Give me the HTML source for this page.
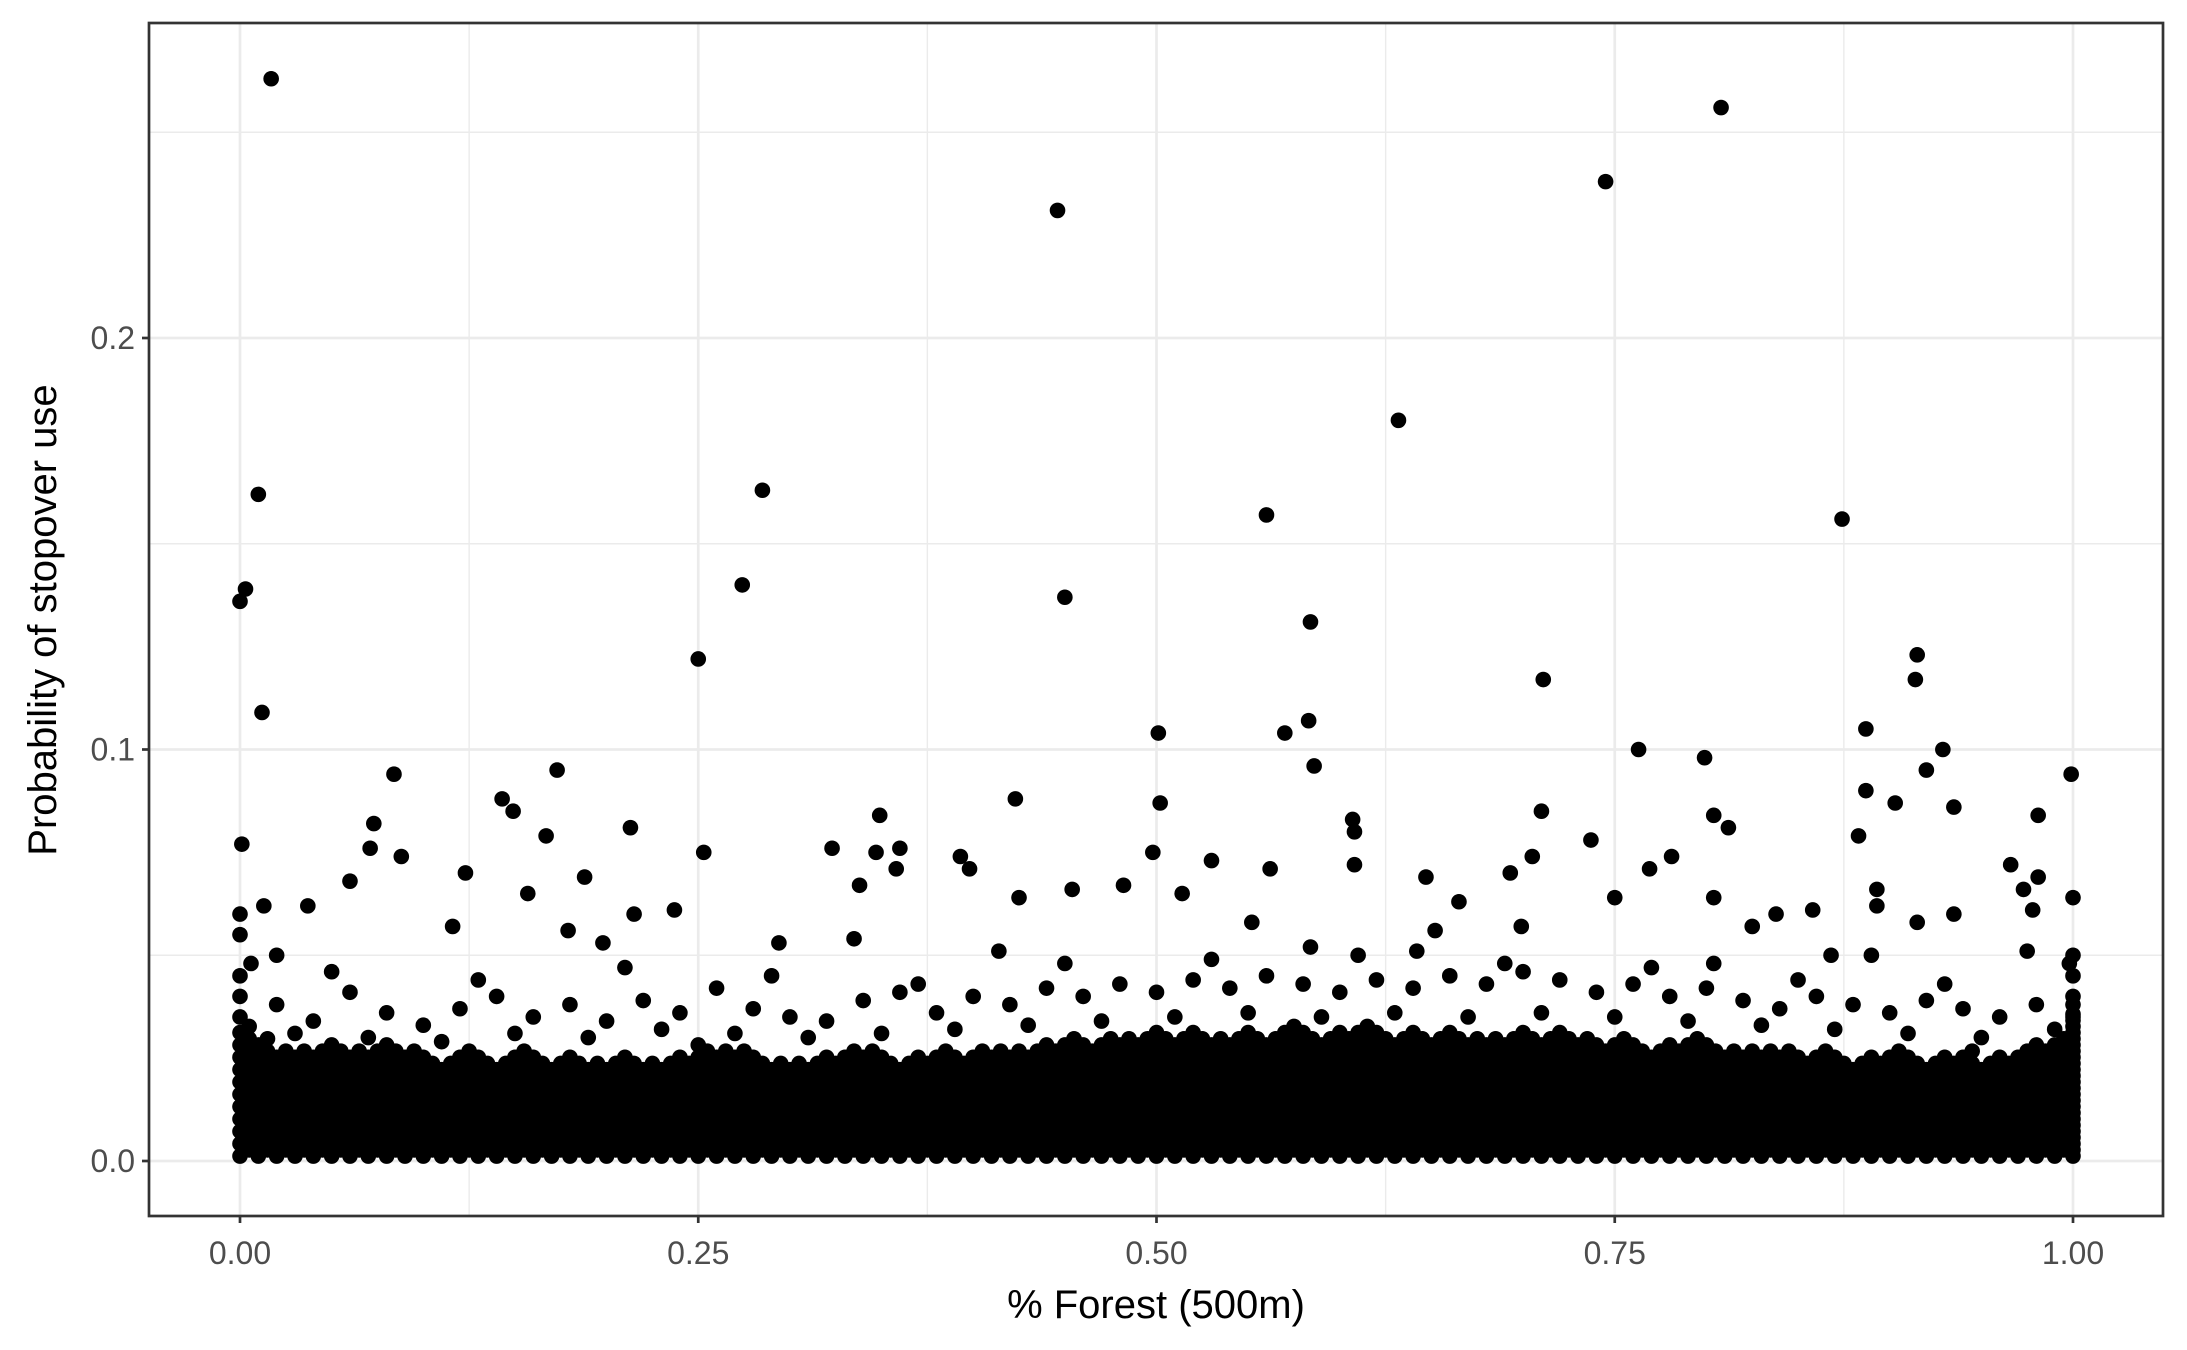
<!DOCTYPE html>
<html><head><meta charset="utf-8">
<style>
html,body{margin:0;padding:0;background:#fff;}
svg{display:block;font-family:"Liberation Sans",Arial,sans-serif;}
</style></head>
<body>
<svg id="chart" width="2187" height="1350" viewBox="0 0 2187 1350" xmlns="http://www.w3.org/2000/svg">
<rect x="0" y="0" width="2187" height="1350" fill="#fff"/>
<g id="grid"></g>
<g id="points"></g>
<rect x="149" y="23" width="2014" height="1193" fill="none" stroke="#333" stroke-width="2.7"/>
<g id="axes"></g>
<text x="1156" y="1318" font-size="40" text-anchor="middle" fill="#000">% Forest (500m)</text>
<text transform="translate(56,620) rotate(-90)" font-size="40" text-anchor="middle" fill="#000">Probability of stopover use</text>
</svg>
<script>
const xTicks = [0, 0.25, 0.5, 0.75, 1];
const xTickLabels = ["0.00", "0.25", "0.50", "0.75", "1.00"];
const xMinor = [0.125, 0.375, 0.625, 0.875];
const yTicks = [0, 0.1, 0.2];
const yTickLabels = ["0.0", "0.1", "0.2"];
const yMinor = [0.05, 0.15, 0.25];
const outX = [0.017,0.808,0.745,0.446,0.632,0.010,0.285,0.560,0.874,0.003,0,0.274,0.450,0.584,0.250,0.915,0.914,0.711,0.012,0.501,0.570,0.583,0.887,0.763,0.929,0.799,0.586,0.999,0.084,0.173,0.920,0.887,0.903,0.502,0.143,0.423,0.710,0.804,0.981,0.935,0.607,0.349,0.149,0.073,0.213,0.608,0.812,0.883,0.167,0.737,0.001,0.323,0.071,0.360,0.253,0.498,0.347,0.088,0.393,0.705,0.781,0.530,0.398,0.358,0.562,0.608,0.769,0.966,0.123,0.188,0.693,0.981,0.060,0.647,0.338,0.482,0.454,0.973,1.0,0.893,0.157,0.750,0.514,0.425,0.804,0.665,0.838,0.858,0.013,0.037,0.978,0.893,0.237,0.935,0.215,0.552,0.652,0.825,0.915,0.179,0.699,0.116,0.335,0.868,0.998,0.804,0.890,0.198,0.294,0.975,0.414,0.584,0.020,0.006,0.642,0,0,0,0,0,1,1,1,1,1];
const outY = [0.263,0.256,0.238,0.231,0.180,0.162,0.163,0.157,0.156,0.139,0.136,0.140,0.137,0.131,0.122,0.123,0.117,0.117,0.109,0.104,0.104,0.107,0.105,0.100,0.100,0.098,0.096,0.094,0.094,0.095,0.095,0.090,0.087,0.087,0.088,0.088,0.085,0.084,0.084,0.086,0.083,0.084,0.085,0.082,0.081,0.080,0.081,0.079,0.079,0.078,0.077,0.076,0.076,0.076,0.075,0.075,0.075,0.074,0.074,0.074,0.074,0.073,0.071,0.071,0.071,0.072,0.071,0.072,0.070,0.069,0.070,0.069,0.068,0.069,0.067,0.067,0.066,0.066,0.064,0.066,0.065,0.064,0.065,0.064,0.064,0.063,0.060,0.061,0.062,0.062,0.061,0.062,0.061,0.060,0.060,0.058,0.056,0.057,0.058,0.056,0.057,0.057,0.054,0.050,0.048,0.048,0.050,0.053,0.053,0.051,0.051,0.052,0.050,0.048,0.051,0.04,0.045,0.055,0.06,0.035,0.04,0.045,0.05,0.035,0.038];
// medium-density fringe above the dense band
const fringeX = [0.02,0.04,0.06,0.08,0.10,0.12,0.14,0.16,0.18,0.20,0.22,0.24,0.26,0.28,0.30,0.32,0.34,0.36,0.38,0.40,0.42,0.44,0.46,0.48,0.50,0.52,0.54,0.56,0.58,0.60,0.62,0.64,0.66,0.68,0.70,0.72,0.74,0.76,0.78,0.80,0.82,0.84,0.86,0.88,0.90,0.92,0.94,0.96,0.98,0.03,0.07,0.11,0.15,0.19,0.23,0.27,0.31,0.35,0.39,0.43,0.47,0.51,0.55,0.59,0.63,0.67,0.71,0.75,0.79,0.83,0.87,0.91,0.95,0.99,0.05,0.13,0.21,0.29,0.37,0.45,0.53,0.61,0.69,0.77,0.85,0.93];
const fringeY = [0.038,0.034,0.041,0.036,0.033,0.037,0.040,0.035,0.038,0.034,0.039,0.036,0.042,0.037,0.035,0.034,0.039,0.041,0.036,0.040,0.038,0.042,0.040,0.043,0.041,0.044,0.042,0.045,0.043,0.041,0.044,0.042,0.045,0.043,0.046,0.044,0.041,0.043,0.040,0.042,0.039,0.037,0.040,0.038,0.036,0.039,0.037,0.035,0.038,0.031,0.030,0.029,0.031,0.030,0.032,0.031,0.030,0.031,0.032,0.033,0.034,0.035,0.036,0.035,0.036,0.035,0.036,0.035,0.034,0.033,0.032,0.031,0.030,0.032,0.046,0.044,0.047,0.045,0.043,0.048,0.049,0.050,0.048,0.047,0.044,0.043];
const bandTop = [0.034,0.030,0.028,0.027,0.028,0.029,0.028,0.027,0.029,0.028,0.026,0.025,0.027,0.026,0.025,0.027,0.026,0.025,0.026,0.024,0.025,0.026,0.025,0.024,0.026,0.029,0.028,0.027,0.026,0.025,0.024,0.025,0.026,0.027,0.028,0.026,0.025,0.026,0.027,0.026,0.027,0.028,0.027,0.028,0.029,0.030,0.029,0.031,0.030,0.031,0.032,0.031,0.032,0.030,0.031,0.032,0.031,0.033,0.032,0.031,0.032,0.033,0.032,0.031,0.032,0.031,0.032,0.031,0.030,0.031,0.032,0.031,0.032,0.030,0.029,0.030,0.029,0.028,0.029,0.030,0.029,0.028,0.027,0.028,0.027,0.026,0.027,0.026,0.025,0.026,0.027,0.026,0.025,0.026,0.027,0.025,0.026,0.027,0.029,0.031,0.036];

const X0 = 240, XS = 1833, Y0 = 1161, YS = 4115;
const PL = 149, PR = 2163, PT = 23, PB = 1216;
const R = 7.8;
function sx(v){ return X0 + v * XS; }
function sy(v){ return Y0 - v * YS; }
const NS = "http://www.w3.org/2000/svg";
function mk(tag, attrs, parent){ const e = document.createElementNS(NS, tag); for (const k in attrs) e.setAttribute(k, attrs[k]); parent.appendChild(e); return e; }

const grid = document.getElementById('grid');
xMinor.forEach(v => { const l = mk('line', {x1:sx(v), x2:sx(v), y1:PT, y2:PB, stroke:'#ebebeb', 'stroke-width':1.4}, grid);
  
   });
yMinor.forEach(v => { const l = mk('line', {x1:PL, x2:PR, y1:sy(v), y2:sy(v), stroke:'#ebebeb', 'stroke-width':1.4}, grid);
  
   });
xTicks.forEach(v => { const l = mk('line', {x1:sx(v), x2:sx(v), y1:PT, y2:PB, stroke:'#ebebeb', 'stroke-width':2.7}, grid);
  
   });
yTicks.forEach(v => { const l = mk('line', {x1:PL, x2:PR, y1:sy(v), y2:sy(v), stroke:'#ebebeb', 'stroke-width':2.7}, grid);
  
   });

const pts = document.getElementById('points');
bandTop.forEach((top, i) => {
  for (let h = 0; h < 2; h++) {
    const xv = Math.min(1, i * 0.01 + h * 0.005);
    const off = h * 0.0015;
    for (let yv = 0.0012 + off; yv <= top; yv += 0.003) {
      const c = mk('circle', {cx:sx(xv), cy:sy(yv), r:R, fill:'#000'}, pts);
      
      
    }
  }
});
fringeX.forEach((xv, i) => {
  const c = mk('circle', {cx:sx(xv), cy:sy(fringeY[i]), r:R, fill:'#000'}, pts);
  
  
});
outX.forEach((xv, i) => {
  const c = mk('circle', {cx:sx(xv), cy:sy(outY[i]), r:R, fill:'#000'}, pts);
  
  
});

const axes = document.getElementById('axes');
xTicks.forEach((v, i) => {
  const t = mk('line', {x1:sx(v), x2:sx(v), y1:PB, y2:PB+7, stroke:'#333', 'stroke-width':2.7}, axes);
  
  
  const lb = mk('text', {x:sx(v), y:PB+48, 'font-size':32, 'text-anchor':'middle', fill:'#4d4d4d'}, axes);
  lb.textContent = xTickLabels[i];
  
  
});
yTicks.forEach((v, i) => {
  const t = mk('line', {x1:PL-7, x2:PL, y1:sy(v), y2:sy(v), stroke:'#333', 'stroke-width':2.7}, axes);
  
  
  const lb = mk('text', {x:PL-14, y:sy(v)+11, 'font-size':32, 'text-anchor':'end', fill:'#4d4d4d'}, axes);
  lb.textContent = yTickLabels[i];
  
  
});
</script>
</body></html>
